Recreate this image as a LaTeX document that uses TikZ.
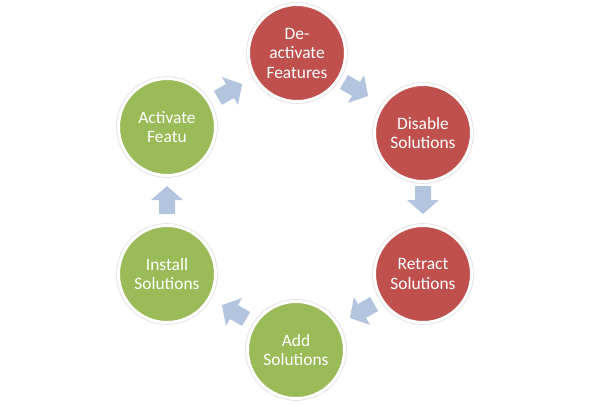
\documentclass[tikz,border=0pt]{standalone}
\usepackage{fontspec}
\setmainfont{Carlito}
\definecolor{redc}{HTML}{C0504D}
\definecolor{greenc}{HTML}{9BBB59}
\definecolor{arrowc}{HTML}{B3C4DF}
\tikzset{
  stage/.style={circle, minimum size=97pt, inner sep=0pt, draw=white, line width=3pt,
    preaction={draw=black!12, line width=4.6pt},
    text=white, align=center, font=\fontsize{17.4}{19.5}\selectfont},
  redstage/.style={stage, fill=redc},
  greenstage/.style={stage, fill=greenc},
  blockarr/.pic={
    \fill[arrowc] (-14,-8) -- (0,-8) -- (0,-16) -- (14,0) -- (0,16) -- (0,8) -- (-14,8) -- cycle;
  }
}
\begin{document}
\begin{tikzpicture}[x=1pt,y=-1pt]
\useasboundingbox (0,0) rectangle (590,405);
\node[redstage] (deact) at (297,53) {De-\\activate\\Features};
\node[redstage] (disable) at (423,133) {Disable\\Solutions};
\node[redstage] (retract) at (423,274) {Retract\\Solutions};
\node[greenstage] (add) at (296,350) {Add\\Solutions};
\node[greenstage] (install) at (167,274) {Install\\Solutions};
\node[greenstage] (activate) at (167,127) {Activate\\Featu};
\pic[rotate=30] (a1) at (230,91) {blockarr};
\pic[rotate=-30] (a2) at (356,89) {blockarr};
\pic[rotate=-90] (a3) at (423,200) {blockarr};
\pic[rotate=210] (a4) at (362,311) {blockarr};
\pic[rotate=150] (a5) at (234,312) {blockarr};
\pic[rotate=90] (a6) at (167,200) {blockarr};
\end{tikzpicture}
\end{document}
